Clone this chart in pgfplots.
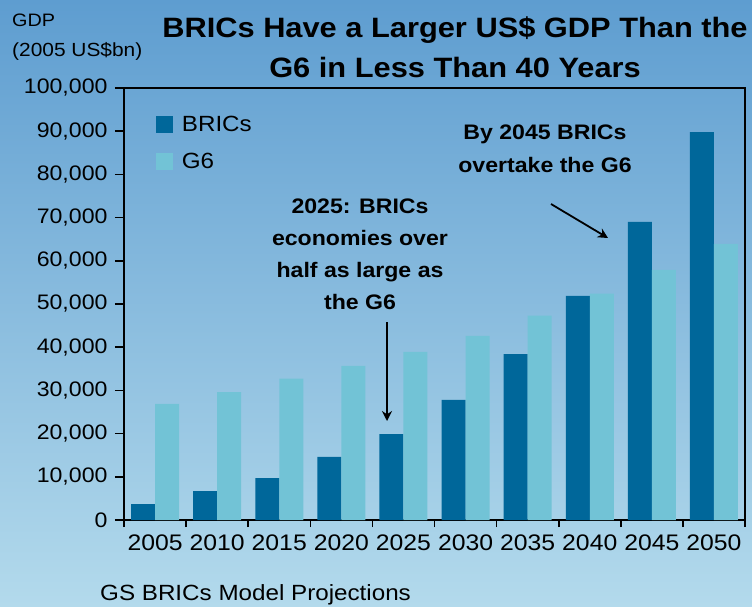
\documentclass[border=0pt]{standalone}
\usepackage{fontspec}
\setmainfont{Liberation Sans}[FakeStretch=1.1]
\usepackage{pgfplots}
\pgfplotsset{compat=1.18}
\usetikzlibrary{arrows.meta}
\definecolor{bricsc}{HTML}{00679A}
\definecolor{g6c}{HTML}{72C3D6}
\definecolor{bgtop}{HTML}{5E9DD0}
\definecolor{bgbot}{HTML}{B3DAEC}
\pgfplotstableread{
x brics g6
0 3700 26900
1 6700 29600
2 9700 32700
3 14600 35700
4 19900 38900
5 27800 42600
6 38400 47300
7 51900 52400
8 69000 57900
9 89800 63900
}\gdpdata
\begin{document}
\begin{tikzpicture}[x=1pt,y=1pt]
\shade[top color=bgtop,bottom color=bgbot] (0,0) rectangle (752,-606);
\begin{axis}[
  at={(124pt,-520pt)}, anchor=south west,
  scale only axis, width=621pt, height=432pt,
  xmin=-0.5, xmax=9.5, ymin=0, ymax=100000,
  ybar=0pt, bar width=24pt,
  axis line style={line width=1.6pt, black},
  every tick/.style={line width=1.6pt, black},
  tick align=outside, xtick pos=lower, ytick pos=left,
  major tick length=9pt, minor tick length=7pt,
  xtick={0,...,9},
  xticklabels={2005,2010,2015,2020,2025,2030,2035,2040,2045,2050},
  minor xtick={-0.5,0.5,...,9.5},
  major x tick style={draw=none},
  ytick={0,10000,...,100000},
  scaled y ticks=false,
  /pgf/number format/.cd, fixed, 1000 sep={,}, assume math mode=true,
  /pgfplots/.cd,
  yticklabel style={font=\fontsize{21}{24}\selectfont, xshift=-4pt},
  xticklabel style={font=\fontsize{22.5}{24}\selectfont, yshift=-2pt},
  legend style={at={(0.0515,0.94)}, anchor=north west, draw=none, fill=none,
    font=\fontsize{22}{24}\selectfont, row sep=16pt, inner sep=0pt,
    nodes={inner sep=2pt}},
  legend cell align=left,
  legend image code/.code={\fill[#1,draw=none] (0pt,-8.5pt) rectangle (17pt,8.5pt);},
]
\addplot[fill=bricsc, draw=none] table[x=x,y=brics] {\gdpdata};
\addlegendentry{\ BRICs}
\addplot[fill=g6c, draw=none] table[x=x,y=g6] {\gdpdata};
\addlegendentry{\ G6}
\end{axis}
% titles and labels
\node[anchor=base, font=\bfseries\fontsize{28}{30}\selectfont] at (455,-37) {BRICs Have a Larger US\$ GDP Than the};
\node[anchor=base, font=\bfseries\fontsize{28}{30}\selectfont] at (455,-77) {G6 in Less Than 40 Years};
\node[anchor=base west, inner sep=0pt, font=\fontsize{18}{20}\selectfont] at (12,-26) {GDP};
\node[anchor=base west, inner sep=0pt, font=\fontsize{19}{20}\selectfont] at (12,-56) {(2005 US\$bn)};
\node[anchor=base west, inner sep=0pt, font=\fontsize{22}{24}\selectfont] at (100,-600) {GS BRICs Model Projections};
% annotations
\begin{scope}[every node/.style={anchor=base, inner sep=0pt, font=\bfseries\fontsize{21}{24}\selectfont}]
\node at (360,-213) {2025: BRICs};
\node at (360,-245) {economies over};
\node at (360,-277) {half as large as};
\node at (360,-309) {the G6};
\node at (545,-139) {By 2045 BRICs};
\node at (545,-172) {overtake the G6};
\end{scope}
\draw[line width=1.8pt, -{Stealth[length=10pt,width=10pt]}] (387,-322) -- (387,-421);
\draw[line width=1.8pt, -{Stealth[length=10pt,width=10pt]}] (551,-204) -- (608,-238);
\end{tikzpicture}
\end{document}
